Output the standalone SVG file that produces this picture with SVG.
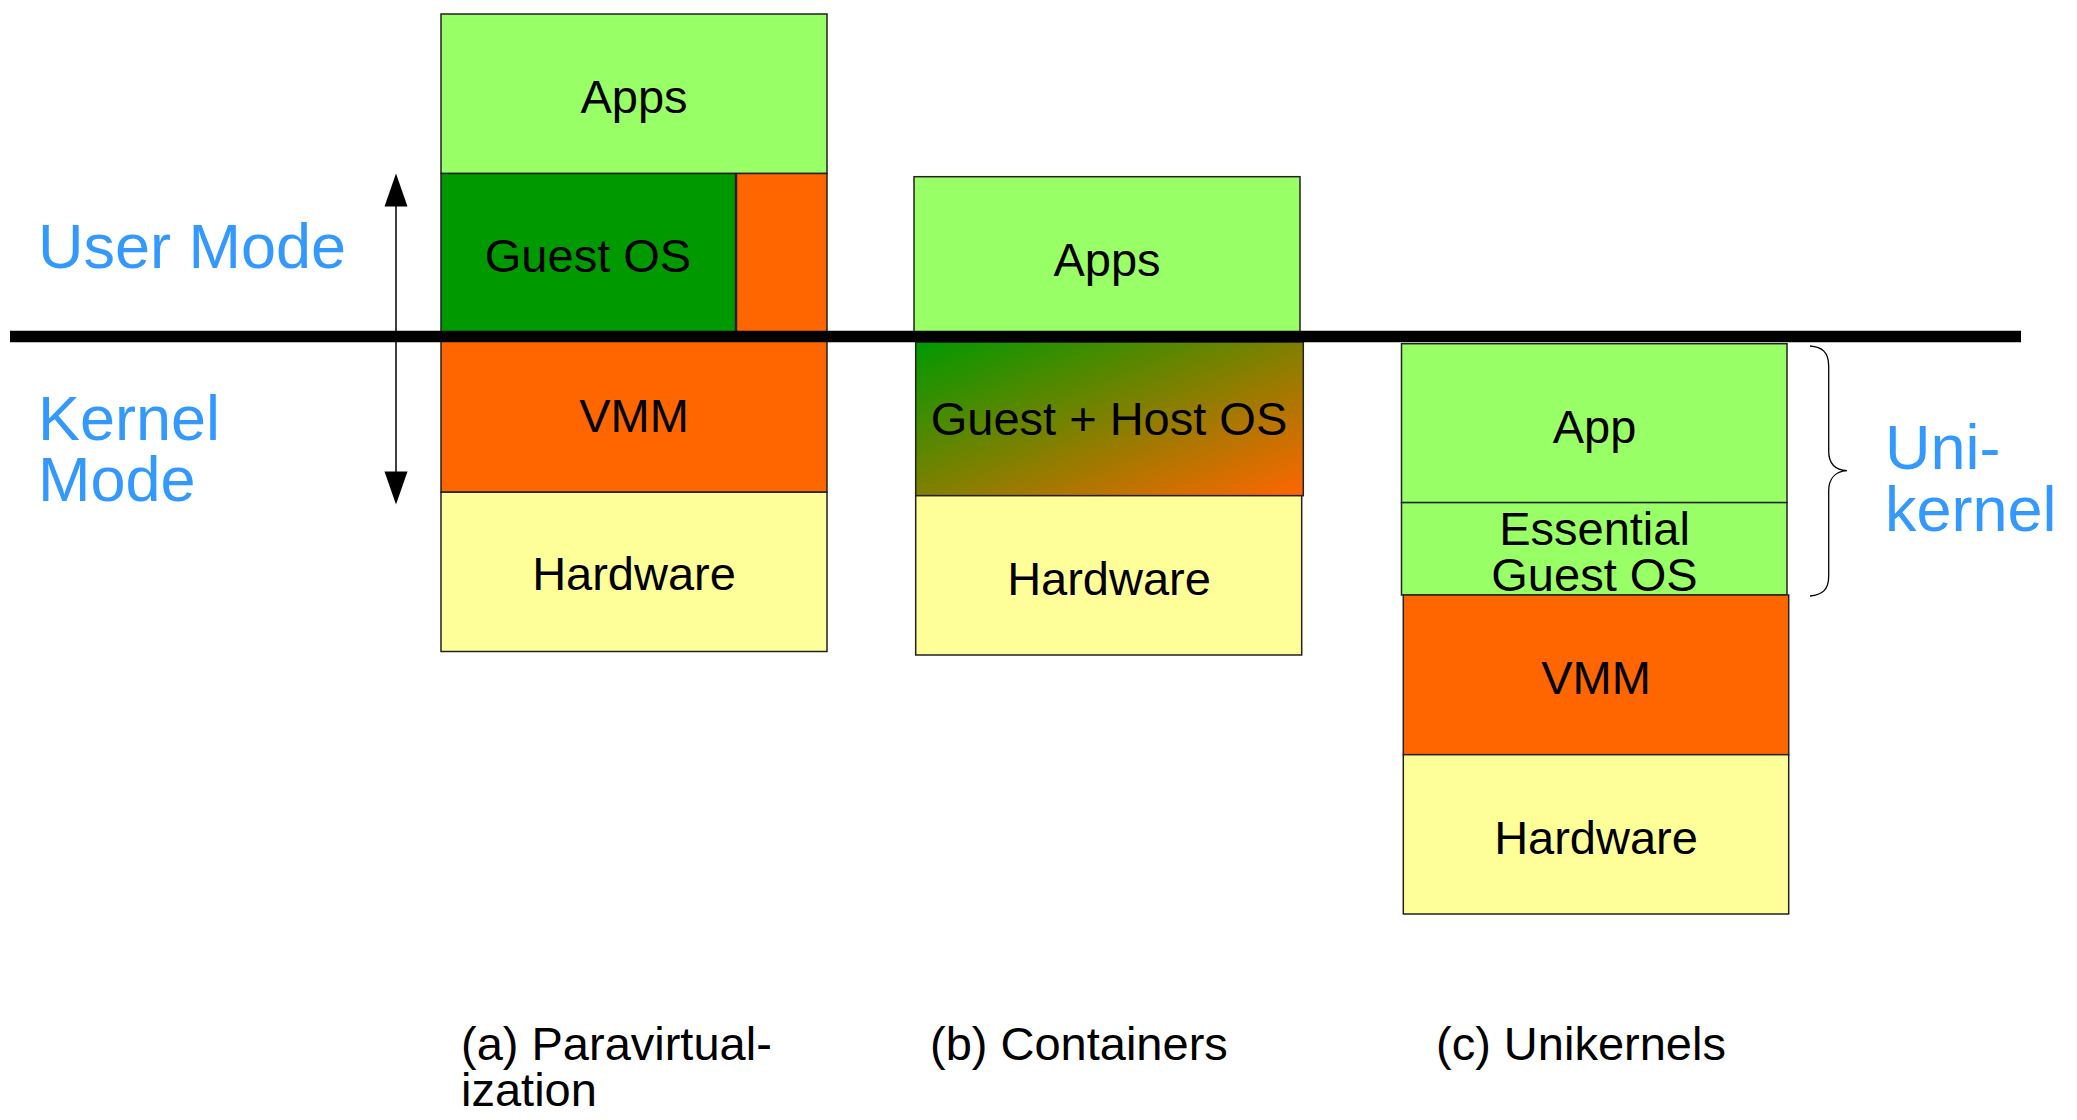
<svg xmlns="http://www.w3.org/2000/svg" width="2077" height="1120" viewBox="0 0 2077 1120">
<style>
.box{stroke:#222;stroke-width:1.5}
.lg{fill:#99ff66}
.dg{fill:#009900}
.or{fill:#ff6600}
.hw{fill:#ffff99}
.t{font-family:"Liberation Sans",Arial,sans-serif;font-size:47px;fill:#000;text-anchor:middle}
.cap{font-family:"Liberation Sans",Arial,sans-serif;font-size:47px;fill:#000}
.blue{font-family:"Liberation Sans",Arial,sans-serif;font-size:63px;fill:#3399ff}
</style>
<defs>
<linearGradient id="gh" x1="0" y1="0" x2="1" y2="1">
<stop offset="0" stop-color="#009900"/>
<stop offset="0.5" stop-color="#808000"/>
<stop offset="1" stop-color="#ff6600"/>
</linearGradient>
</defs>
<rect width="2077" height="1120" fill="#fff"/>

<g id="col-a">
<g id="a-apps"><rect class="box lg" x="441" y="14" width="386" height="159.5"/><text class="t" x="634" y="113">Apps</text></g>
<g id="a-guestos"><rect class="box dg" x="441" y="173.5" width="294.5" height="163"/><text class="t" x="588" y="272">Guest OS</text></g>
<g id="a-orange"><rect class="box or" x="736.5" y="173.5" width="90.5" height="163"/></g>
<g id="a-vmm"><rect class="box or" x="441" y="336.5" width="386" height="155.7"/><text class="t" x="634" y="431.5">VMM</text></g>
<g id="a-hw"><rect class="box hw" x="441" y="492.2" width="386" height="159.3"/><text class="t" x="634" y="590">Hardware</text></g>
</g>

<g id="col-b">
<g id="b-apps"><rect class="box lg" x="914" y="176.7" width="386" height="160"/><text class="t" x="1107" y="276">Apps</text></g>
<g id="b-guesthost"><rect class="box" fill="url(#gh)" x="915.7" y="342" width="387.6" height="153.7"/><text class="t" x="1109" y="435">Guest + Host OS</text></g>
<g id="b-hw"><rect class="box hw" x="915.7" y="495.7" width="386" height="159.3"/><text class="t" x="1109" y="595">Hardware</text></g>
</g>

<g id="col-c">
<g id="c-app"><rect class="box lg" x="1401.5" y="343.7" width="385.5" height="158.9"/><text class="t" x="1594.5" y="442.5">App</text></g>
<g id="c-essential"><rect class="box lg" x="1401.5" y="502.6" width="385.5" height="92.4"/><text class="t" x="1594.5" y="544.5">Essential</text><text class="t" x="1594.5" y="590.7">Guest OS</text></g>
<g id="c-vmm"><rect class="box or" x="1403.3" y="595" width="385.4" height="159.7"/><text class="t" x="1596" y="693.5">VMM</text></g>
<g id="c-hw"><rect class="box hw" x="1403.3" y="754.7" width="385.4" height="159.3"/><text class="t" x="1596" y="853.6">Hardware</text></g>
</g>

<g id="connectors">
<line id="mode-line" x1="10" y1="336.5" x2="2021" y2="336.5" stroke="#000" stroke-width="11.5"/>
<g id="mode-arrow">
<line x1="396" y1="200" x2="396" y2="478" stroke="#000" stroke-width="1.5"/>
<path d="M396,173.5 L384.5,206.5 L407.5,206.5 Z" fill="#000"/>
<path d="M396,504.5 L384.5,471.5 L407.5,471.5 Z" fill="#000"/>
</g>
<path id="brace" d="M1810,346 C1822,347 1828.7,352 1828.7,366 L1828.7,451 C1828.7,463 1835,470 1847,470.7 C1835,471.5 1828.7,479 1828.7,491 L1828.7,576 C1828.7,590 1822,595 1810,596" fill="none" stroke="#000" stroke-width="1.3"/>
</g>

<g id="labels">
<text class="blue" x="38" y="268">User Mode</text>
<text class="blue" x="38" y="440">Kernel</text>
<text class="blue" x="38" y="501">Mode</text>
<text class="blue" x="1885" y="469">Uni-</text>
<text class="blue" x="1885" y="531">kernel</text>
<text class="cap" x="461" y="1060">(a) Paravirtual-</text>
<text class="cap" x="461" y="1106">ization</text>
<text class="cap" x="930" y="1060">(b) Containers</text>
<text class="cap" x="1436" y="1060">(c) Unikernels</text>
</g>
</svg>
